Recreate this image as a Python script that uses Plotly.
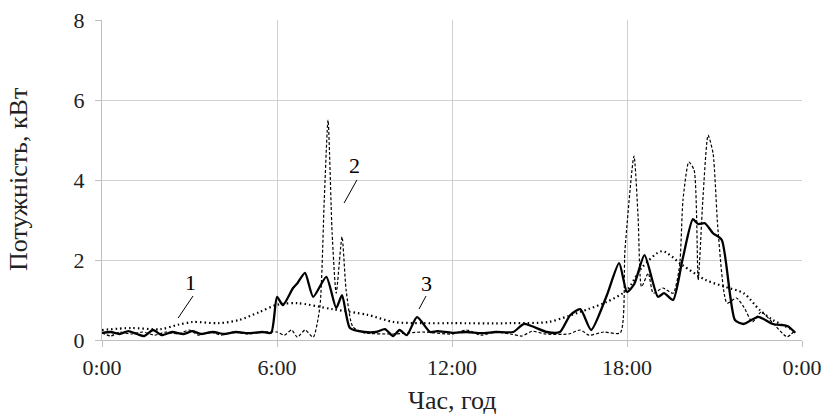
import plotly.graph_objects as go

# Series 1 (dotted)
h1 = [0, 1, 2, 2.6, 3.1, 4, 4.7, 5.4, 6, 6.7, 7.9, 9.1, 10, 11, 12, 14, 15.3, 16, 16.7, 17.3,
      18, 18.5, 19.2, 19.9, 20.7, 21.4, 22, 22.55, 23, 23.7]
v1 = [0.25, 0.3, 0.27, 0.38, 0.45, 0.42, 0.5, 0.7, 0.88, 0.92, 0.77, 0.63, 0.45, 0.42, 0.42, 0.42,
      0.45, 0.6, 0.78, 0.95, 1.25, 1.8, 2.22, 1.87, 1.5, 1.32, 1.17, 0.75, 0.5, 0.25]

# Series 2 (dashed)
h2 = [0, 0.3, 0.6, 1, 1.4, 1.8, 2.2, 2.6, 3, 3.3, 3.7, 4.1, 4.5, 5, 5.5, 6, 6.25, 6.5, 6.7, 6.96,
      7.24, 7.47, 7.62, 7.75, 7.89, 8.03, 8.23, 8.37, 8.6, 9, 10, 11, 12, 12.5, 13, 13.5, 14, 14.4,
      14.75, 15.2, 16, 16.4, 16.7, 17.2, 17.77, 17.93, 18.24, 18.38, 18.5, 18.73, 18.9, 19.23,
      19.58, 19.8, 19.92, 20.12, 20.3, 20.44, 20.6, 20.78, 20.95, 21.12, 21.43, 21.75, 22.0,
      22.3, 22.6, 22.97, 23.49, 23.77]
v2 = [0.18, 0.1, 0.2, 0.15, 0.2, 0.12, 0.2, 0.15, 0.25, 0.12, 0.2, 0.12, 0.2, 0.15, 0.2, 0.2, 0.12,
      0.25, 0.07, 0.25, 0.07, 0.83, 3.5, 5.5, 2.67, 1.17, 2.58, 1.25, 0.33, 0.18, 0.15, 0.2, 0.15,
      0.25, 0.12, 0.2, 0.15, 0.1, 0.22, 0.15, 0.15, 0.25, 0.12, 0.2, 0.18, 2.25, 4.6, 3.08, 1.33,
      1.67, 1.17, 1.3, 1.17, 1.83, 3.5, 4.45, 4.25, 1.5, 3.5, 5.12, 4.67, 2.75, 0.92, 1.05, 0.83,
      0.45, 0.7, 0.45, 0.08, 0.25]

# Series 3 (solid)
h3 = [0, 0.3, 0.6, 0.9, 1.2, 1.45, 1.75, 2.05, 2.4, 2.8, 3.1, 3.4, 3.8, 4.2, 4.6, 5.0, 5.5, 5.8,
      6.0, 6.2, 6.55, 6.7, 6.96, 7.24, 7.69, 8.03, 8.23, 8.5, 9, 9.4, 9.7, 9.98, 10.2, 10.45, 10.8,
      11.25, 11.5, 12, 12.5, 13, 13.5, 14.1, 14.47, 15.25, 15.7, 16.05, 16.4, 16.77, 17.3, 17.73,
      18.0, 18.25, 18.6, 19.06, 19.27, 19.58, 19.9, 20.26, 20.44, 20.67, 20.95, 21.25, 21.7, 22.0,
      22.5, 23, 23.5, 23.77]
v3 = [0.18, 0.2, 0.15, 0.22, 0.15, 0.1, 0.25, 0.12, 0.2, 0.15, 0.22, 0.15, 0.2, 0.15, 0.2, 0.17,
      0.2, 0.18, 1.08, 0.87, 1.3, 1.42, 1.68, 1.08, 1.58, 0.8, 1.12, 0.3, 0.2, 0.2, 0.27, 0.1, 0.25,
      0.12, 0.57, 0.2, 0.22, 0.18, 0.2, 0.17, 0.2, 0.2, 0.4, 0.2, 0.2, 0.62, 0.77, 0.25, 1.1, 1.92,
      1.2, 1.4, 2.12, 1.08, 1.17, 1.0, 2.0, 3.02, 2.9, 2.92, 2.67, 2.5, 0.5, 0.4, 0.58, 0.4, 0.35,
      0.18]

tick_vals = [0, 6, 12, 18, 24]
tick_text = ["0:00", "6:00", "12:00", "18:00", "0:00"]

labels = ["1", "2", "3"]
label_pos = [(3.02, 1.45), (8.67, 4.375), (11.11, 1.425)]
leader = [((3.12, 1.1), (2.61, 0.55)), ((8.74, 4.0), (8.30, 3.425)), ((11.11, 1.1), (10.87, 0.775))]

FONT = "Liberation Serif, Times New Roman, serif"

fig = go.Figure()
fig.add_trace(go.Scatter(x=h1, y=v1, mode="lines",
                         line=dict(color="black", width=2.2, dash="1.5px,3px", shape="spline", smoothing=0.8)))
fig.add_trace(go.Scatter(x=h2, y=v2, mode="lines",
                         line=dict(color="black", width=1.2, dash="3px,2px", shape="spline", smoothing=0.6)))
fig.add_trace(go.Scatter(x=h3, y=v3, mode="lines",
                         line=dict(color="black", width=2.3, shape="spline", smoothing=0.6)))

for (p0, p1) in leader:
    fig.add_shape(type="line", x0=p0[0], y0=p0[1], x1=p1[0], y1=p1[1],
                  line=dict(color="black", width=1), xref="x", yref="y")

for t, (x, y) in zip(labels, label_pos):
    fig.add_annotation(x=x, y=y, text=t, showarrow=False, xref="x", yref="y",
                       font=dict(family=FONT, size=22, color="black"))

fig.add_annotation(x=-0.12, y=0.5, xref="paper", yref="paper", text="Потужність, кВт",
                   textangle=-90, showarrow=False, xanchor="center", yanchor="middle",
                   font=dict(family=FONT, size=26, color="#222"))
fig.add_annotation(x=0.5, y=-0.1875, xref="paper", yref="paper", text="Час, год",
                   showarrow=False, xanchor="center", yanchor="middle",
                   font=dict(family=FONT, size=26, color="#222"))

fig.update_layout(
    width=822, height=419,
    margin=dict(l=102, r=20, t=20, b=79, autoexpand=False),
    paper_bgcolor="white", plot_bgcolor="white",
    showlegend=False,
    font=dict(family=FONT, size=22, color="#222"),
)
fig.update_xaxes(range=[0, 24], tickvals=tick_vals, ticktext=tick_text,
                 showgrid=True, gridcolor="#d0d0d0", gridwidth=1,
                 showline=True, linecolor="#bfbfbf", linewidth=1,
                 ticks="outside", ticklen=6, tickcolor="#bfbfbf", zeroline=False,
                 ticklabelstandoff=2, automargin=False)
fig.update_yaxes(range=[0, 8], dtick=2, tick0=0,
                 showgrid=True, gridcolor="#d0d0d0", gridwidth=1,
                 showline=True, linecolor="#bfbfbf", linewidth=1,
                 ticks="outside", ticklen=6, tickcolor="#bfbfbf", zeroline=False,
                 ticklabelstandoff=6, automargin=False)

fig.write_html("out.html")
